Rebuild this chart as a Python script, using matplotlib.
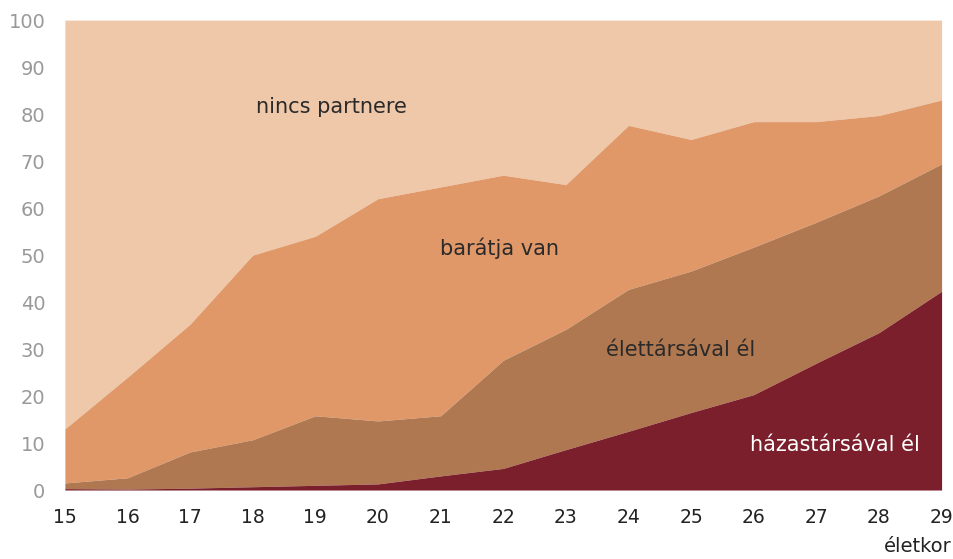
import numpy as np
import matplotlib.pyplot as plt

ages = np.arange(15, 30)
# cumulative boundaries (percent)
hazas = [0.3, 0.2, 0.4, 0.7, 1.0, 1.3, 3.0, 4.6, 8.6, 12.5, 16.5, 20.3, 27.0, 33.5, 42.3]
elettars_cum = [1.5, 2.6, 8.1, 10.7, 15.8, 14.7, 15.8, 27.6, 34.2, 42.7, 46.6, 51.7, 57.0, 62.6, 69.4]
barat_cum = [13.0, 24.0, 35.3, 50.0, 54.0, 62.0, 64.5, 67.0, 65.0, 77.6, 74.6, 78.4, 78.4, 79.7, 83.0]
total = [100] * 15

c_nincs = '#EFC7A9'
c_barat = '#E09868'
c_elet = '#B07850'
c_hazas = '#7C1F2C'

fig = plt.figure(figsize=(9.54, 5.59), dpi=100)
ax = fig.add_axes([0.068, 0.1234, 0.919, 0.8406])

ax.fill_between(ages, barat_cum, total, color=c_nincs, lw=0)
ax.fill_between(ages, elettars_cum, barat_cum, color=c_barat, lw=0)
ax.fill_between(ages, hazas, elettars_cum, color=c_elet, lw=0)
ax.fill_between(ages, 0, hazas, color=c_hazas, lw=0)

ax.set_xlim(15, 29)
ax.set_ylim(0, 100)
ax.set_xticks(ages)
ax.set_yticks(range(0, 101, 10))
for s in ax.spines.values():
    s.set_visible(False)
ax.tick_params(axis='both', length=0)
ax.tick_params(axis='x', labelsize=13.5, colors='#222222', pad=13)
ax.tick_params(axis='y', labelsize=14, colors='#999999', pad=14)

tk = dict(fontsize=15, ha='center', va='center')
ax.text(19.26, 81.6, 'nincs partnere', color='#2a2a2a', **tk)
ax.text(21.94, 51.5, 'barátja van', color='#2a2a2a', **tk)
ax.text(24.83, 29.9, 'élettársával él', color='#2a2a2a', **tk)
ax.text(27.3, 9.6, 'házastársával él', color='white', **tk)

fig.text(0.998, 0.022, 'életkor', fontsize=14, color='#222222', ha='right', va='center')

plt.savefig('out.png')
